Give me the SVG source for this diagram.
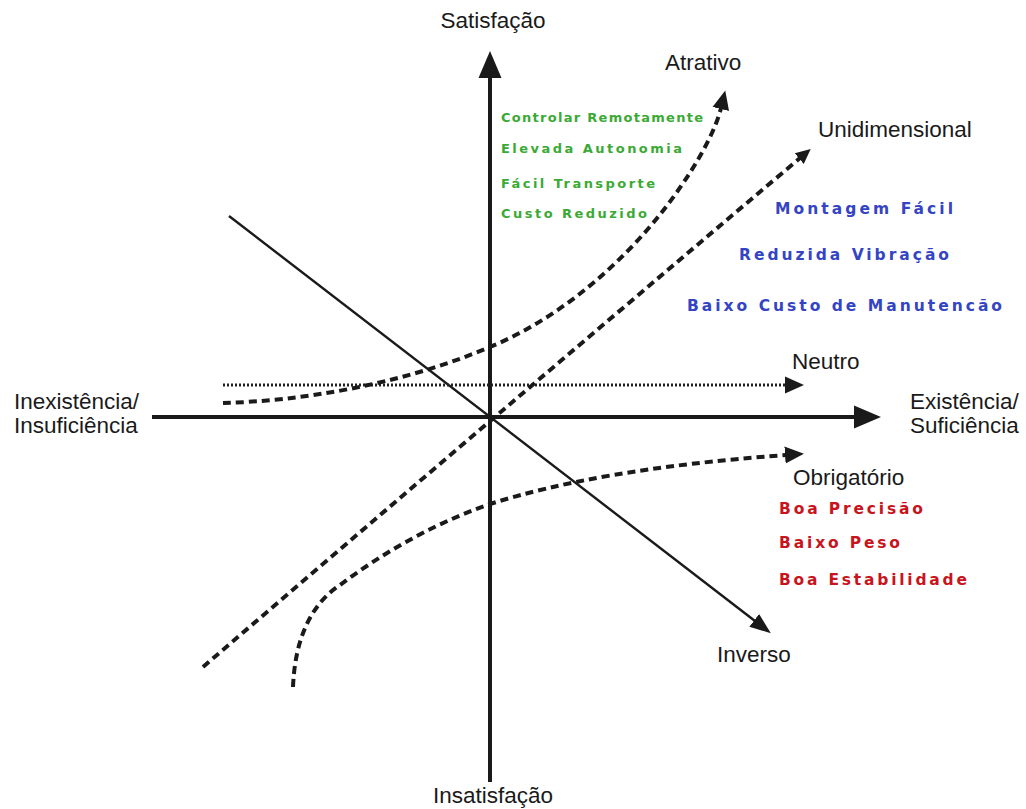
<svg xmlns="http://www.w3.org/2000/svg" width="1026" height="809" viewBox="0 0 1026 809">
<style>
.lbl{font-family:"Liberation Sans",Arial,sans-serif;font-size:22.5px;fill:#1a1a1a}
.feat{font-family:"DejaVu Sans",Verdana,sans-serif;font-weight:bold}
.g{fill:#3aaa35;font-size:13px}
.b{fill:#3444c4;font-size:15.5px}
.r{fill:#c8141c;font-size:15.5px}
.axis{stroke:#1a1a1a;stroke-width:4;fill:none}
.dash{stroke:#1a1a1a;stroke-width:4;fill:none;stroke-dasharray:8 5}
.dot{stroke:#222;stroke-width:3;fill:none;stroke-dasharray:2 2}
.solid{stroke:#1a1a1a;stroke-width:2.4;fill:none}
</style>
<defs>
<marker id="headL" markerUnits="userSpaceOnUse" markerWidth="30" markerHeight="26" viewBox="0 -13 30 26" refX="1" refY="0" orient="auto"><path d="M0,-11.5 L27,0 L0,11.5 z" fill="#1a1a1a"/></marker>
<marker id="headM" markerUnits="userSpaceOnUse" markerWidth="22" markerHeight="20" viewBox="0 -10 22 20" refX="1" refY="0" orient="auto"><path d="M0,-8.5 L19,0 L0,8.5 z" fill="#1a1a1a"/></marker>
<marker id="headS" markerUnits="userSpaceOnUse" markerWidth="18" markerHeight="16" viewBox="0 -8 18 16" refX="1" refY="0" orient="auto"><path d="M0,-7 L15,0 L0,7 z" fill="#1a1a1a"/></marker>
<marker id="headI" markerUnits="userSpaceOnUse" markerWidth="24" markerHeight="20" viewBox="0 -10 24 20" refX="1" refY="0" orient="auto"><path d="M0,-8 L21,0 L0,8 z" fill="#1a1a1a"/></marker>
</defs>
<rect width="1026" height="809" fill="#ffffff"/>

<g id="connectors">
  <path id="axis-y" class="axis" d="M490,782 V77" marker-end="url(#headL)"/>
  <path id="axis-x" class="axis" d="M152,417 H855" marker-end="url(#headL)"/>
  <path id="inverso-line" class="solid" d="M229,216 L755,621" marker-end="url(#headI)"/>
  <path id="neutro-line" class="dot" d="M223,385 H786" marker-end="url(#headM)"/>
  <path id="unidimensional-line" class="dash" d="M203,667 Q490,420 800,158" marker-end="url(#headS)"/>
  <path id="atrativo-line" class="dash" d="M223,403 C300,401 400,385 490,347 C560,318 620,265 662,212 C675,196 712,145 721,108" marker-end="url(#headM)"/>
  <path id="obrigatorio-line" class="dash" d="M293,687 C295,640 310,605 340,585 C380,555 430,525 490,504 C560,482 650,465 786,455" marker-end="url(#headM)"/>
</g>

<g id="satisfacao"><text class="lbl" x="493" y="28" text-anchor="middle">Satisfação</text></g>
<g id="insatisfacao"><text class="lbl" x="493" y="803" text-anchor="middle">Insatisfação</text></g>
<g id="inexistencia"><text class="lbl" x="14" y="409">Inexistência/</text><text class="lbl" x="14" y="433">Insuficiência</text></g>
<g id="existencia"><text class="lbl" x="910" y="409">Existência/</text><text class="lbl" x="910" y="433">Suficiência</text></g>

<g id="atrativo">
  <text class="lbl" x="665" y="70">Atrativo</text>
  <text class="feat g" x="501" y="122" textLength="202" lengthAdjust="spacing">Controlar Remotamente</text>
  <text class="feat g" x="501" y="153" textLength="181" lengthAdjust="spacing">Elevada Autonomia</text>
  <text class="feat g" x="501" y="188" textLength="154" lengthAdjust="spacing">Fácil Transporte</text>
  <text class="feat g" x="501" y="218" textLength="146" lengthAdjust="spacing">Custo Reduzido</text>
</g>

<g id="unidimensional">
  <text class="lbl" x="818" y="137">Unidimensional</text>
  <text class="feat b" x="775" y="214" textLength="178" lengthAdjust="spacing">Montagem Fácil</text>
  <text class="feat b" x="739" y="260" textLength="210" lengthAdjust="spacing">Reduzida Vibração</text>
  <text class="feat b" x="687" y="311" textLength="315" lengthAdjust="spacing">Baixo Custo de Manutencão</text>
</g>

<g id="neutro"><text class="lbl" x="792" y="369">Neutro</text></g>

<g id="obrigatorio">
  <text class="lbl" x="793" y="485">Obrigatório</text>
  <text class="feat r" x="779" y="514" textLength="144" lengthAdjust="spacing">Boa Precisão</text>
  <text class="feat r" x="779" y="548" textLength="121" lengthAdjust="spacing">Baixo Peso</text>
  <text class="feat r" x="779" y="585" textLength="188" lengthAdjust="spacing">Boa Estabilidade</text>
</g>

<g id="inverso"><text class="lbl" x="717" y="662">Inverso</text></g>
</svg>
